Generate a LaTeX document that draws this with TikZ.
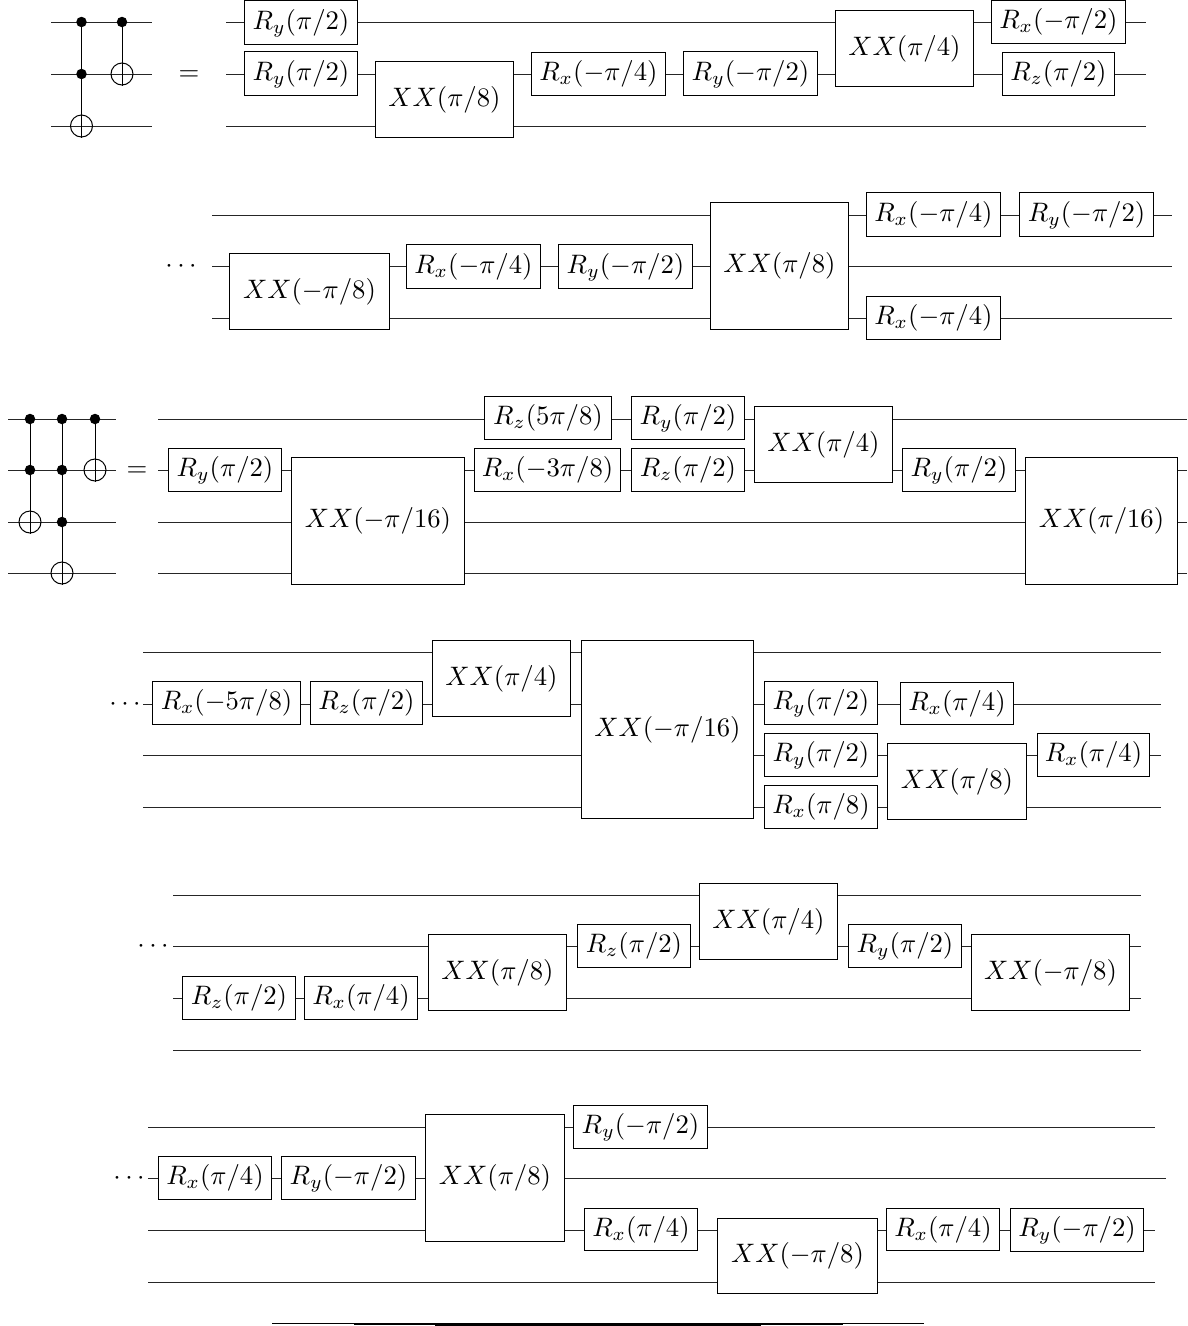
\documentclass[tikz,border=0pt]{standalone}
\newcommand{\sz}[1]{\scalebox{2.67}{\smash{$#1$}\vphantom{$($}}}
\tikzset{
  wire/.style={line width=1pt,black!85},
  gatebox/.style={draw=black,line width=1pt,fill=white,inner sep=0pt,outer sep=0pt,rectangle},
  ctrldot/.style={circle,fill=black,inner sep=0pt,minimum size=10.5pt},
  targ/.style={circle,draw=black,line width=1pt,fill=none,inner sep=0pt,minimum size=22pt},
  plainlabel/.style={inner sep=0pt},
}
% \gate{name}{x1}{y1}{x2}{y2}{label}
\newcommand{\gate}[6]{\node[gatebox,minimum width=#4pt-#2pt,minimum height=#5pt-#3pt] (#1) at ({(#2+#4)/2-0.5},{(#3+#5)/2-0.3}) {\sz{#6}};}
% \wireline{name}{x1}{x2}{y}
\newcommand{\wireline}[4]{\coordinate (#1s) at (#2,#4);\coordinate (#1e) at (#3,#4);\draw[wire] (#1s)--(#1e);}
\newcommand{\ctrl}[3]{\node[ctrldot] (#1) at (#2,#3) {};}
\newcommand{\targq}[3]{\node[targ] (#1) at (#2,#3) {};\draw[line width=1pt] (#1.north)--(#1.south);}
\begin{document}
\begin{tikzpicture}[x=1pt,y=-1pt]
\useasboundingbox (0,0) rectangle (1187,1326);
% === left circuit 1
\wireline{la}{51}{152}{22}\wireline{lb}{51}{152}{74}\wireline{lc}{51}{152}{126}
\ctrl{c1a}{81.5}{22}\ctrl{c1b}{81.5}{74}\targq{t1}{81.5}{126}
\draw[wire,black] (c1a)--(c1b);\draw[wire,black] (c1b)--(t1);
\ctrl{c2a}{122}{22}\targq{t2}{122}{74}
\draw[wire,black] (c2a)--(t2);
\node[plainlabel] (eq1) at (189,74) {\sz{=}};
% === row 1
\wireline{a1}{226}{1146}{22}\wireline{a2}{226}{1146}{74}\wireline{a3}{226}{1146}{126}
\gate{g1}{245}{1}{358}{45}{R_y(\pi/2)}
\gate{g2}{245}{52}{358}{96}{R_y(\pi/2)}
\gate{g3}{376}{62}{514}{138}{XX(\pi/8)}
\gate{g4}{532}{53}{666}{96}{R_x(-\pi/4)}
\gate{g5}{684}{52}{818}{96}{R_y(-\pi/2)}
\gate{g6}{836}{11}{974}{87}{XX(\pi/4)}
\gate{g7}{992}{1}{1126}{44}{R_x(-\pi/2)}
\gate{g8}{1003}{53}{1115}{96}{R_z(\pi/2)}
% === row 2
\node[plainlabel] (d2) at (181,266) {\sz{\cdots}};
\wireline{b1}{212}{1172}{215}\wireline{b2}{212}{1172}{266}\wireline{b3}{212}{1172}{318}
\gate{h1}{230}{254}{390}{330}{XX(-\pi/8)}
\gate{h2}{407}{245}{541}{289}{R_x(-\pi/4)}
\gate{h3}{559}{245}{693}{289}{R_y(-\pi/2)}
\gate{h4}{711}{203}{849}{330}{XX(\pi/8)}
\gate{h5}{867}{193}{1001}{237}{R_x(-\pi/4)}
\gate{h6}{1020}{193}{1154}{237}{R_y(-\pi/2)}
\gate{h7}{867}{297}{1001}{340}{R_x(-\pi/4)}
% === left circuit 2
\wireline{lp}{8}{116}{419}\wireline{lq}{8}{116}{470}\wireline{lr}{8}{116}{522}\wireline{ls}{8}{116}{573}
\ctrl{d1a}{30}{419}\ctrl{d1b}{30}{470}\targq{u1}{30}{522}
\draw[wire,black] (d1a)--(d1b);\draw[wire,black] (d1b)--(u1);
\ctrl{d2a}{62}{419}\ctrl{d2b}{62}{470}\ctrl{d2c}{62}{522}\targq{u2}{62}{573}
\draw[wire,black] (d2a)--(d2b);\draw[wire,black] (d2b)--(d2c);\draw[wire,black] (d2c)--(u2);
\ctrl{d3a}{95}{419}\targq{u3}{95}{470}
\draw[wire,black] (d3a)--(u3);
\node[plainlabel] (eq2) at (137,470) {\sz{=}};
% === row 3
\wireline{c1}{158}{1187}{419}\wireline{c2}{158}{1187}{470}\wireline{c3}{158}{1187}{522}\wireline{c4}{158}{1187}{573}
\gate{i1}{169}{449}{282}{492}{R_y(\pi/2)}
\gate{i2}{292}{458}{465}{585}{XX(-\pi/16)}
\gate{i3}{485}{397}{612}{440}{R_z(5\pi/8)}
\gate{i4}{632}{397}{745}{440}{R_y(\pi/2)}
\gate{i5}{475}{449}{621}{492}{R_x(-3\pi/8)}
\gate{i6}{632}{449}{745}{492}{R_z(\pi/2)}
\gate{i7}{755}{407}{893}{483}{XX(\pi/4)}
\gate{i8}{903}{449}{1016}{492}{R_y(\pi/2)}
\gate{i9}{1026}{458}{1178}{585}{XX(\pi/16)}
% === row 4
\node[plainlabel] (d4) at (125,704) {\sz{\cdots}};
\wireline{e1}{143}{1161}{652}\wireline{e2}{143}{1161}{704}\wireline{e3}{143}{1161}{755}\wireline{e4}{143}{1161}{807}
\gate{j1}{153}{682}{301}{725}{R_x(-5\pi/8)}
\gate{j2}{311}{682}{423}{725}{R_z(\pi/2)}
\gate{j3}{433}{641}{571}{717}{XX(\pi/4)}
\gate{j4}{582}{641}{754}{819}{XX(-\pi/16)}
\gate{j5}{765}{682}{878}{725}{R_y(\pi/2)}
\gate{j6}{901}{683}{1014}{725}{R_x(\pi/4)}
\gate{j7}{765}{734}{878}{777}{R_y(\pi/2)}
\gate{j8}{888}{744}{1027}{820}{XX(\pi/8)}
\gate{j9}{1038}{734}{1150}{777}{R_x(\pi/4)}
\gate{j10}{765}{786}{878}{829}{R_x(\pi/8)}
% === row 5
\node[plainlabel] (d5) at (153,946) {\sz{\cdots}};
\wireline{f1}{173}{1141}{895}\wireline{f2}{173}{1141}{946}\wireline{f3}{173}{1141}{998}\wireline{f4}{173}{1141}{1050}
\gate{k1}{183}{977}{296}{1020}{R_z(\pi/2)}
\gate{k2}{305}{977}{418}{1020}{R_x(\pi/4)}
\gate{k3}{429}{935}{567}{1011}{XX(\pi/8)}
\gate{k4}{578}{925}{691}{968}{R_z(\pi/2)}
\gate{k5}{700}{884}{838}{960}{XX(\pi/4)}
\gate{k6}{849}{925}{962}{968}{R_y(\pi/2)}
\gate{k7}{972}{935}{1130}{1011}{XX(-\pi/8)}
% === row 6
\node[plainlabel] (d6) at (129,1178) {\sz{\cdots}};
\wireline{m1}{148}{1155}{1127}\wireline{m2}{148}{1166}{1178}\wireline{m3}{148}{1155}{1230}\wireline{m4}{148}{1155}{1282}
\gate{n1}{159}{1157}{272}{1200}{R_x(\pi/4)}
\gate{n2}{282}{1157}{416}{1200}{R_y(-\pi/2)}
\gate{n3}{426}{1115}{565}{1242}{XX(\pi/8)}
\gate{n4}{574}{1106}{708}{1149}{R_y(-\pi/2)}
\gate{n5}{585}{1209}{698}{1251}{R_x(\pi/4)}
\gate{n6}{718}{1219}{878}{1294}{XX(-\pi/8)}
\gate{n7}{887}{1209}{1000}{1251}{R_x(\pi/4)}
\gate{n8}{1011}{1209}{1144}{1252}{R_y(-\pi/2)}
% === bottom edge line
\coordinate (z1) at (272,1323.8);\coordinate (z2) at (924,1323.8);
\coordinate (z3) at (354,1324.2);\coordinate (z4) at (843,1324.2);
\coordinate (z5) at (435,1324.6);\coordinate (z6) at (761,1324.6);
\coordinate (z7) at (516,1324.8);\coordinate (z8) at (680,1324.8);
\draw[line width=1pt] (z1)--(z2);
\draw[line width=1.6pt] (z3)--(z4);
\draw[line width=2.4pt] (z5)--(z6);
\draw[line width=3pt] (z7)--(z8);
\end{tikzpicture}
\end{document}
